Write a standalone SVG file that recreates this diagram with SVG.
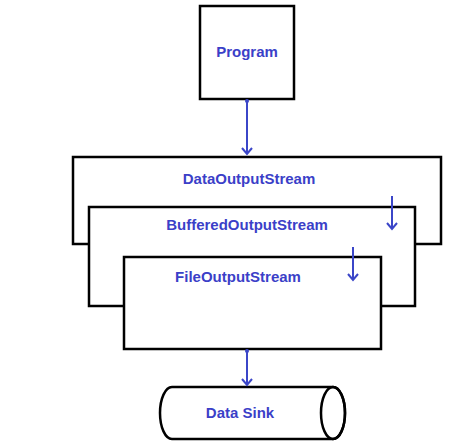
<svg xmlns="http://www.w3.org/2000/svg" width="473" height="448" viewBox="0 0 473 448">
<style>
.box{fill:#fff;stroke:#000;stroke-width:2.5}
.lbl{font-family:"Liberation Sans",Arial,sans-serif;font-weight:bold;font-size:15px;fill:#3b3fc8;text-anchor:middle}
.arr{stroke:#3b46c8;stroke-width:2;fill:none}
</style>
<defs>
<marker id="ah" viewBox="0 0 12 12" refX="10" refY="6" markerWidth="12" markerHeight="12" markerUnits="userSpaceOnUse" orient="auto">
<path d="M4,1 L10,6 L4,11" fill="none" stroke="#3b46c8" stroke-width="2"/>
</marker>
</defs>
<rect width="473" height="448" fill="#fff"/>
<g id="program">
<rect class="box" x="200" y="6" width="94" height="93"/>
<text class="lbl" x="247" y="57">Program</text>
</g>
<g id="data-output-stream">
<rect class="box" x="73" y="157" width="368" height="87"/>
<text class="lbl" x="249" y="184">DataOutputStream</text>
</g>
<g id="buffered-output-stream">
<rect class="box" x="89" y="207" width="326" height="99"/>
<text class="lbl" x="247" y="230">BufferedOutputStream</text>
</g>
<g id="file-output-stream">
<rect class="box" x="124" y="257" width="257" height="92"/>
<text class="lbl" x="238" y="282">FileOutputStream</text>
</g>
<g id="data-sink">
<path class="box" d="M172,387 L333,387 A12,26 0 0 1 333,439 L172,439 A12,26 0 0 1 172,387 Z"/>
<ellipse cx="333" cy="413" rx="12" ry="26" fill="none" stroke="#000" stroke-width="2.5"/>
<text class="lbl" x="240" y="418">Data Sink</text>
</g>
<g id="connectors">
<circle cx="247" cy="101" r="2" fill="#3b46c8"/>
<line class="arr" x1="247" y1="101" x2="247" y2="154" marker-end="url(#ah)"/>
<line class="arr" x1="392" y1="196" x2="392" y2="229" marker-end="url(#ah)"/>
<line class="arr" x1="353" y1="247" x2="353" y2="280" marker-end="url(#ah)"/>
<circle cx="247" cy="351" r="2" fill="#3b46c8"/>
<line class="arr" x1="247" y1="351" x2="247" y2="385" marker-end="url(#ah)"/>
</g>
</svg>
